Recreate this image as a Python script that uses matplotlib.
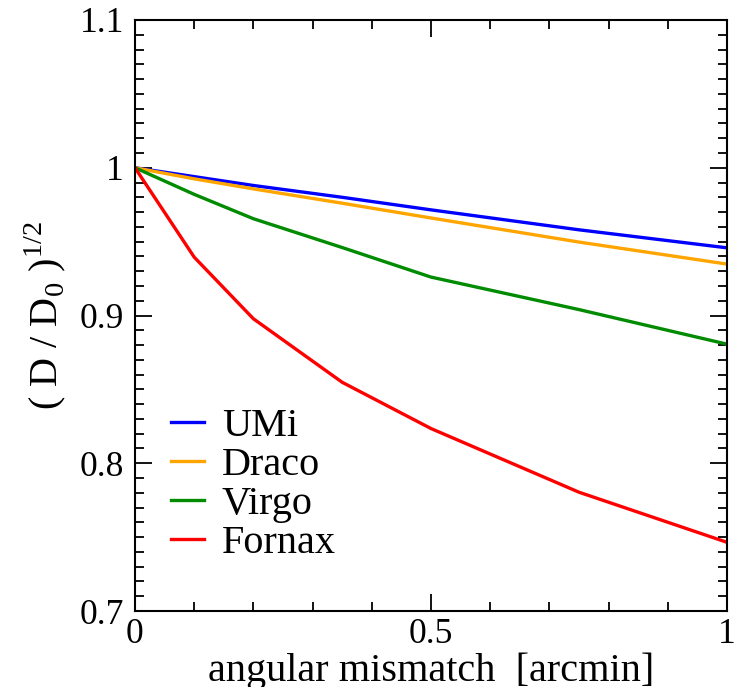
import matplotlib
matplotlib.use("Agg")
import matplotlib.pyplot as plt
from matplotlib.ticker import MultipleLocator

plt.rcParams['font.family'] = ['Liberation Serif', 'DejaVu Serif']
plt.rcParams['mathtext.fontset'] = 'custom'
plt.rcParams['mathtext.rm'] = 'Liberation Serif'

# data
mismatch = [0.0, 0.1, 0.2, 0.35, 0.5, 0.75, 1.0]
umi    = [1.0, 0.994, 0.988, 0.980, 0.9715, 0.958, 0.9458]
draco  = [1.0, 0.9925, 0.9857, 0.976, 0.966, 0.9497, 0.9348]
virgo  = [1.0, 0.982, 0.9655, 0.946, 0.926, 0.904, 0.8806]
fornax = [1.0, 0.9395, 0.8978, 0.8548, 0.8235, 0.7804, 0.7465]

names = ['UMi', 'Draco', 'Virgo', 'Fornax']
colors = ['#0000ff', '#ffa500', '#008b00', '#ff0000']

fig = plt.figure(figsize=(7.34, 6.87), dpi=100)
ax = fig.add_axes([0.1839, 0.1106, 0.8066, 0.8603])

for ys, name, c in zip([umi, draco, virgo, fornax], names, colors):
    ax.plot(mismatch, ys, color=c, lw=2.4, label=name)

ax.set_xlim(0, 1)
ax.set_ylim(0.7, 1.1)
ax.xaxis.set_minor_locator(MultipleLocator(0.1))
ax.yaxis.set_minor_locator(MultipleLocator(0.01))
ax.set_yticks([0.7, 0.8, 0.9, 1.0, 1.1])
ax.set_yticklabels(['0.7', '0.8', '0.9', '1', '1.1'])
ax.set_xticks([0, 0.5, 1])
ax.set_xticklabels(['0', '0.5', '1'])

ax.tick_params(which='both', direction='in', top=True, right=True, width=1.3,
               labelsize=25.5)
ax.tick_params(axis='x', which='major', pad=5)
ax.tick_params(axis='y', which='major', pad=8)
ax.tick_params(which='major', length=12)
ax.tick_params(which='minor', length=6.5)
for s in ax.spines.values():
    s.set_linewidth(1.5)

ax.set_xlabel('angular mismatch  [arcmin]', fontsize=29, labelpad=1)
ax.set_ylabel(r'( D / D$_0$ )$^{1/2}$', fontsize=29, labelpad=8)

ax.legend(loc='upper left', bbox_to_anchor=(0.06, 0.343), frameon=False,
          fontsize=29, handlelength=0.82, handletextpad=0.45,
          labelspacing=0.04, borderpad=0, borderaxespad=0)

fig.savefig('out.png', dpi=100)
